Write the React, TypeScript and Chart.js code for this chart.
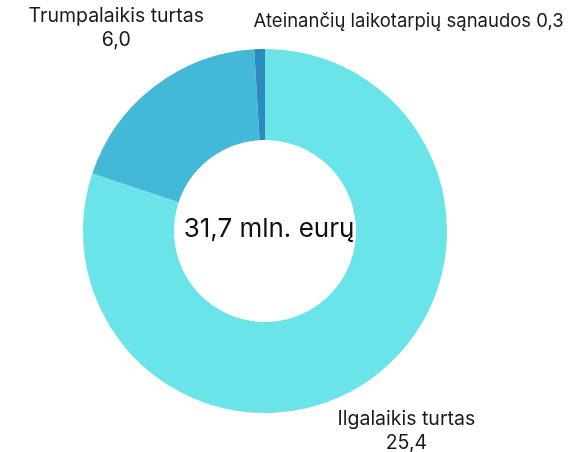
import React, { useEffect, useRef } from "react";
import { Chart, registerables } from "chart.js";

Chart.register(...registerables);

const categories = ["Ilgalaikis turtas", "Trumpalaikis turtas", "Ateinančių laikotarpių sąnaudos"];
const values = [25.4, 6.0, 0.3];
const valueLabels = ["25,4", "6,0", "0,3"];
const totalLabel = "31,7 mln. eurų";
const colors = ["#6AE4E8", "#43B8D7", "#2C8ABF"];

const FONT = "Inter, 'Open Sans', sans-serif";

// label layout: offset from the arc's outer mid point, and line mode
const labelLayout = [
  { dx: 35, dy: 40, mode: "two", align: "center" },
  { dx: -38, dy: -70, mode: "two", align: "center" },
  { dx: -6, dy: -28, mode: "one", align: "left" },
];

const labelsPlugin = {
  id: "outerLabels",
  afterDraw(chart: any) {
    const ctx = chart.ctx;
    const meta = chart.getDatasetMeta(0);
    ctx.save();
    ctx.fillStyle = "#1a1a1a";
    ctx.textBaseline = "middle";
    meta.data.forEach((arc: any, i: number) => {
      const p = arc.getProps(["x", "y", "startAngle", "endAngle", "outerRadius"], true);
      const mid = (p.startAngle + p.endAngle) / 2;
      const ax = p.x + Math.cos(mid) * p.outerRadius;
      const ay = p.y + Math.sin(mid) * p.outerRadius;
      const L = labelLayout[i];
      const x = ax + L.dx;
      const y = ay + L.dy;
      ctx.font = `${i === 2 ? 18.5 : 19.5}px ${FONT}`;
      ctx.textAlign = L.align;
      if (L.mode === "two") {
        ctx.fillText(categories[i], x, y);
        ctx.fillText(valueLabels[i], x, y + 24);
      } else {
        ctx.fillText(categories[i] + " " + valueLabels[i], x, y);
      }
    });
    const a0 = meta.data[0];
    if (a0) {
      ctx.font = `26px ${FONT}`;
      ctx.textAlign = "center";
      ctx.fillStyle = "#111";
      ctx.fillText(totalLabel, a0.x + 4, a0.y - 2);
    }
    ctx.restore();
  },
};

export default function App() {
  const ref = useRef<HTMLCanvasElement | null>(null);
  useEffect(() => {
    document.body.style.margin = "0";
    if (!ref.current) return;
    const chart = new Chart(ref.current, {
      type: "doughnut",
      data: {
        labels: categories,
        datasets: [
          {
            data: values,
            backgroundColor: colors,
            borderWidth: 0,
          },
        ],
      },
      options: {
        animation: false,
        responsive: false,
        cutout: "50%",
        layout: { padding: { left: 83, right: 132, top: 49, bottom: 39 } },
        plugins: {
          legend: { display: false },
          tooltip: { enabled: false },
        },
      },
      plugins: [labelsPlugin],
    });
    return () => chart.destroy();
  }, []);
  return (
    <div style={{ width: 579, height: 452 }}>
      <canvas ref={ref} width={579} height={452} style={{ display: "block" }} />
    </div>
  );
}
